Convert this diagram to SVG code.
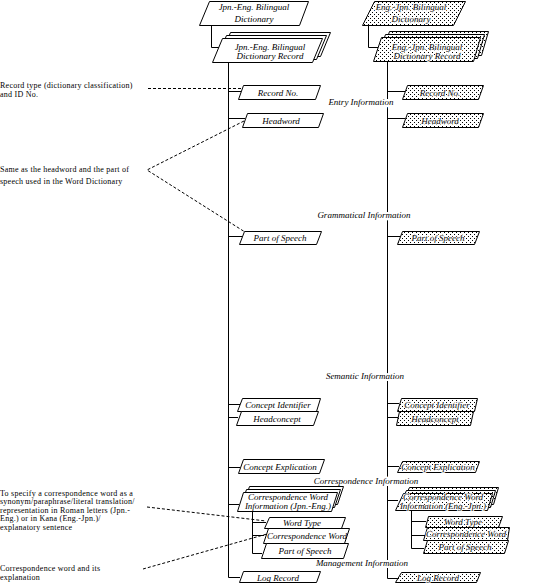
<svg xmlns="http://www.w3.org/2000/svg" width="544" height="586" viewBox="0 0 544 586">
<style>
  .bx{fill:#fff;stroke:#000;stroke-width:1}
  .bd{fill:url(#dots);stroke:#000;stroke-width:1}
  .ln{fill:none;stroke:#000;stroke-width:1}
  .dl{fill:none;stroke:#000;stroke-width:1;stroke-dasharray:3,2}
  .t{font-family:"Liberation Serif","DejaVu Serif",serif;font-style:italic;font-size:9px;text-anchor:middle;fill:#000}
  .rt{font-family:"Liberation Serif","DejaVu Serif",serif;font-style:italic;font-size:9px;text-anchor:middle;fill:#000;stroke:#fff;stroke-width:1.6;paint-order:stroke}
  .cat{font-family:"Liberation Serif","DejaVu Serif",serif;font-style:italic;font-size:9px;text-anchor:middle;fill:#000;stroke:#fff;stroke-width:4;paint-order:stroke}
  .an{font-family:"Liberation Serif","DejaVu Serif",serif;font-size:8px;letter-spacing:0.25px;fill:#000}
</style>
<defs>
  <pattern id="dots" width="4" height="4" patternUnits="userSpaceOnUse">
    <rect width="4" height="4" fill="#fff"/>
    <rect x="0" y="0" width="1" height="1" fill="#000"/>
    <rect x="2" y="2" width="1" height="1" fill="#000"/>
  </pattern>
</defs>
<rect width="544" height="586" fill="#fff"/>

<g id="connectors">
  <path class="ln" d="M211.5,25 V47.5 H220"/>
  <path class="ln" d="M228.5,62 V577.5 H240"/>
  <path class="ln" d="M228.5,91.5 H241"/>
  <path class="ln" d="M228.5,118.5 H245"/>
  <path class="ln" d="M228.5,236.5 H242"/>
  <path class="ln" d="M228.5,404.5 H240"/>
  <path class="ln" d="M228.5,417.5 H238"/>
  <path class="ln" d="M228.5,467.5 H240"/>
  <path class="ln" d="M228.5,504.5 H239"/>
  <path class="ln" d="M252.5,511 V553.5 H262"/>
  <path class="ln" d="M252.5,522.5 H266"/>
  <path class="ln" d="M252.5,535.5 H264"/>

  <path class="ln" d="M368.5,25 V47.5 H378"/>
  <path class="ln" d="M387.5,61 V578.5 H398"/>
  <path class="ln" d="M387.5,91.5 H405"/>
  <path class="ln" d="M387.5,118.5 H405"/>
  <path class="ln" d="M387.5,236.5 H400"/>
  <path class="ln" d="M387.5,403.5 H399"/>
  <path class="ln" d="M387.5,417.5 H398"/>
  <path class="ln" d="M387.5,466.5 H399"/>
  <path class="ln" d="M387.5,500.5 H398"/>
  <path class="ln" d="M411.5,510 V548.5 H424"/>
  <path class="ln" d="M411.5,521.5 H426"/>
  <path class="ln" d="M411.5,535.5 H425"/>

  <path class="dl" d="M148,88.5 H243"/>
  <path class="dl" d="M244,121 L147,170 L245,232"/>
  <path class="dl" d="M147,507 L266,521"/>
  <path class="dl" d="M143,569 L267,534"/>
</g>

<g id="labels">
  <text class="cat" x="361" y="105">Entry Information</text>
  <text class="cat" x="364" y="218">Grammatical Information</text>
  <text class="cat" x="365" y="379">Semantic Information</text>
  <text class="cat" x="366" y="484">Correspondence Information</text>
  <text class="cat" x="362" y="566">Management Information</text>
</g>

<g id="annotations">
  <text class="an" x="0" y="88">Record type (dictionary classification)</text>
  <text class="an" x="0" y="96.5">and ID No.</text>
  <text class="an" x="0" y="172">Same as the headword and the part of</text>
  <text class="an" x="0" y="184">speech used in the Word Dictionary</text>
  <text class="an" x="0" y="495.5">To specify a correspondence word as a</text>
  <text class="an" x="0" y="504">synonym/paraphrase/literal translation/</text>
  <text class="an" x="0" y="512.5">representation in Roman letters (Jpn.-</text>
  <text class="an" x="0" y="521">Eng.) or in Kana (Eng.-Jpn.)/</text>
  <text class="an" x="0" y="529.5">explanatory sentence</text>
  <text class="an" x="0" y="571">Correspondence word and its</text>
  <text class="an" x="0" y="580">explanation</text>
</g>

<!-- Left column: Jpn.-Eng. -->
<g id="je-dict">
  <polygon class="bx" points="209.5,1.5 308.5,1.5 299.5,25.5 199.5,25.5"/>
  <text class="t" x="254" y="10">Jpn.-Eng. Bilingual</text>
  <text class="t" x="254" y="22">Dictionary</text>
</g>
<g id="je-record">
  <polygon class="bx" points="230.5,32.5 330.5,32.5 320.5,56.5 220.5,56.5"/>
  <polygon class="bx" points="226.5,35.5 326.5,35.5 316.5,59.5 216.5,59.5"/>
  <polygon class="bx" points="222.5,38.5 322.5,38.5 312.5,62.5 212.5,62.5"/>
  <text class="t" x="270" y="50">Jpn.-Eng. Bilingual</text>
  <text class="t" x="270" y="58.5">Dictionary Record</text>
</g>
<g id="je-recno">
  <polygon class="bx" points="243.5,85.5 320.5,85.5 315.5,99.5 238.5,99.5"/>
  <text class="t" x="278" y="95.5">Record No.</text>
</g>
<g id="je-headword">
  <polygon class="bx" points="247.5,113.5 323.5,113.5 318.5,127.5 242.5,127.5"/>
  <text class="t" x="281" y="123.5">Headword</text>
</g>
<g id="je-pos">
  <polygon class="bx" points="244.5,231.5 321.5,231.5 316.5,244.5 239.5,244.5"/>
  <text class="t" x="280" y="241">Part of Speech</text>
</g>
<g id="je-conceptid">
  <polygon class="bx" points="242.5,398.5 320.5,398.5 316.5,411.5 237.5,411.5"/>
  <text class="t" x="278" y="408">Concept Identifier</text>
</g>
<g id="je-headconcept">
  <polygon class="bx" points="241.5,411.5 318.5,411.5 313.5,425.5 236.5,425.5"/>
  <text class="t" x="277" y="421.5">Headconcept</text>
</g>
<g id="je-conceptexp">
  <polygon class="bx" points="243.5,459.5 324.5,459.5 319.5,473.5 238.5,473.5"/>
  <text class="t" x="280" y="469.5">Concept Explication</text>
</g>
<g id="je-corrinfo">
  <polygon class="bx" points="249.5,486.5 343.5,486.5 337.5,504.5 243.5,504.5"/>
  <polygon class="bx" points="246.5,489.5 340.5,489.5 334.5,507.5 240.5,507.5"/>
  <polygon class="bx" points="243.5,492.5 337.5,492.5 331.5,511.5 237.5,511.5"/>
  <text class="t" x="288" y="500">Correspondence Word</text>
  <text class="t" x="288" y="508.5">Information (Jpn.-Eng.)</text>
</g>
<g id="je-wordtype">
  <polygon class="bx" points="269.5,517.5 345.5,517.5 341.5,528.5 264.5,528.5"/>
  <text class="t" x="302" y="526">Word Type</text>
</g>
<g id="je-corrword">
  <polygon class="bx" points="268.5,528.5 349.5,528.5 344.5,543.5 263.5,543.5"/>
  <text class="t" x="307" y="539">Correspondence Word</text>
</g>
<g id="je-pos2">
  <polygon class="bx" points="266.5,543.5 348.5,543.5 343.5,558.5 261.5,558.5"/>
  <text class="t" x="305" y="554">Part of Speech</text>
</g>
<g id="je-log">
  <polygon class="bx" points="243.5,571.5 320.5,571.5 316.5,582.5 239.5,582.5"/>
  <text class="t" x="278" y="580.5">Log Record</text>
</g>

<!-- Right column: Eng.-Jpn. -->
<g id="ej-dict">
  <polygon class="bd" points="374.5,1.5 465.5,1.5 453.5,25.5 362.5,25.5"/>
  <text class="rt" x="411" y="10">Eng.-Jpn. Bilingual</text>
  <text class="rt" x="411" y="22">Dictionary</text>
</g>
<g id="ej-record">
  <polygon class="bd" points="389.5,31.5 488.5,31.5 481.5,55.5 381.5,55.5"/>
  <polygon class="bd" points="385.5,34.5 484.5,34.5 477.5,58.5 377.5,58.5"/>
  <polygon class="bd" points="381.5,37.5 480.5,37.5 473.5,61.5 373.5,61.5"/>
  <text class="rt" x="427" y="49.5">Eng.-Jpn. Bilingual</text>
  <text class="rt" x="427" y="58.5">Dictionary Record</text>
</g>
<g id="ej-recno">
  <polygon class="bd" points="407.5,85.5 483.5,85.5 478.5,99.5 402.5,99.5"/>
  <text class="rt" x="440" y="95.5">Record No.</text>
</g>
<g id="ej-headword">
  <polygon class="bd" points="407.5,113.5 483.5,113.5 478.5,127.5 402.5,127.5"/>
  <text class="rt" x="440" y="123.5">Headword</text>
</g>
<g id="ej-pos">
  <polygon class="bd" points="402.5,231.5 479.5,231.5 474.5,244.5 397.5,244.5"/>
  <text class="rt" x="438" y="241">Part of Speech</text>
</g>
<g id="ej-conceptid">
  <polygon class="bd" points="401.5,398.5 477.5,398.5 474.5,411.5 397.5,411.5"/>
  <text class="rt" x="437" y="408">Concept Identifier</text>
</g>
<g id="ej-headconcept">
  <polygon class="bd" points="399.5,411.5 473.5,411.5 470.5,425.5 396.5,425.5"/>
  <text class="rt" x="435" y="421.5">Headconcept</text>
</g>
<g id="ej-conceptexp">
  <polygon class="bd" points="402.5,461.5 479.5,461.5 475.5,472.5 397.5,472.5"/>
  <text class="rt" x="438" y="470">Concept Explication</text>
</g>
<g id="ej-corrinfo">
  <polygon class="bd" points="409.5,487.5 498.5,487.5 493.5,504.5 401.5,504.5"/>
  <polygon class="bd" points="406.5,490.5 495.5,490.5 490.5,507.5 398.5,507.5"/>
  <polygon class="bd" points="403.5,493.5 492.5,493.5 487.5,510.5 395.5,510.5"/>
  <text class="rt" x="443" y="500">Correspondence Word</text>
  <text class="rt" x="443" y="509">Information (Eng.-Jpn.)</text>
</g>
<g id="ej-wordtype">
  <polygon class="bd" points="428.5,516.5 502.5,516.5 498.5,527.5 425.5,527.5"/>
  <text class="rt" x="463" y="525">Word Type</text>
</g>
<g id="ej-corrword">
  <polygon class="bd" points="427.5,527.5 509.5,527.5 507.5,540.5 423.5,540.5"/>
  <text class="rt" x="466" y="537">Correspondence Word</text>
</g>
<g id="ej-pos2">
  <polygon class="bd" points="427.5,540.5 508.5,540.5 504.5,553.5 423.5,553.5"/>
  <text class="rt" x="465" y="550">Part of Speech</text>
</g>
<g id="ej-log">
  <polygon class="bd" points="401.5,572.5 480.5,572.5 476.5,582.5 395.5,582.5"/>
  <text class="rt" x="438" y="580.5">Log Record</text>
</g>
</svg>
